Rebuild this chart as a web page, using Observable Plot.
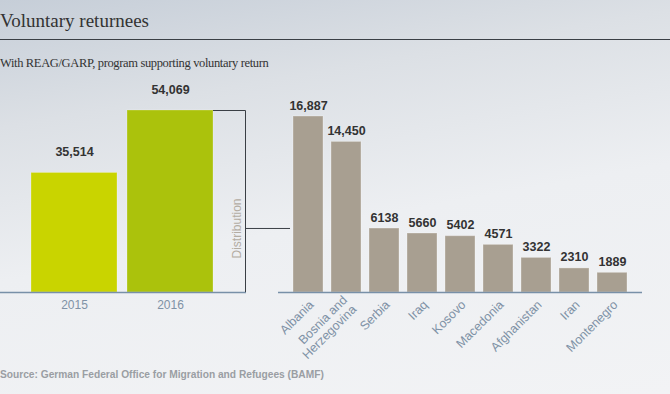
<!DOCTYPE html>
<html>
<head>
<meta charset="utf-8">
<script src="https://cdn.jsdelivr.net/npm/d3@7"></script>
<script src="https://cdn.jsdelivr.net/npm/@observablehq/plot@0.6"></script>
<style>
  html, body { margin: 0; padding: 0; }
  #wrap {
    position: relative; width: 670px; height: 394px; overflow: hidden;
    background: linear-gradient(170deg, #c6ced8 0%, #dce0e5 25%, #edeff2 55%, #f2f3f5 100%);
    font-family: "Liberation Sans", Arial, sans-serif;
  }
  #title { position: absolute; left: 0; top: 10px; font-family: "Liberation Serif", Georgia, serif; font-size: 19px; color: #333; white-space: nowrap; }
  #rule { position: absolute; left: 0; top: 39px; width: 670px; height: 1px; background: #3a3f45; }
  #subtitle { position: absolute; left: 0; top: 56px; font-family: "Liberation Serif", Georgia, serif; font-size: 12.5px; letter-spacing: -0.35px; color: #333; white-space: nowrap; }
  #left { position: absolute; left: 0; top: 80px; }
  #right { position: absolute; left: 270px; top: 80px; }
  #source { position: absolute; left: 0; top: 369px; font-size: 10.2px; font-weight: bold; color: #9a9ea3; white-space: nowrap; }
  svg { overflow: visible; background: none !important; }
</style>
</head>
<body>
<div id="wrap">
  <div id="title">Voluntary returnees</div>
  <div id="rule"></div>
  <div id="subtitle">With REAG/GARP, program supporting voluntary return</div>
  <div id="left"></div>
  <div id="right"></div>
  <div id="source">Source: German Federal Office for Migration and Refugees (BAMF)</div>
</div>
<script>
// ---- data ----
const years = ["2015", "2016"];
const yearValues = [35514, 54069];
const yearColors = ["#c9d400", "#abc20c"];

const countries = ["Albania", "Bosnia and\nHerzegovina", "Serbia", "Iraq", "Kosovo", "Macedonia", "Afghanistan", "Iran", "Montenegro"];
const countryValues = [16887, 14450, 6138, 5660, 5402, 4571, 3322, 2310, 1889];

const bracketLabel = "Distribution";

const fmt = v => v >= 10000 ? d3.format(",")(v) : String(v);
const yearData = years.map((y, i) => ({year: y, value: yearValues[i], color: yearColors[i]}));
const countryData = countries.map((c, i) => ({country: c, value: countryValues[i]}));

const textColor = "#333";
const axisColor = "#7890a8";
const labelColor = "#7f92a6";

// ---- left chart ----
const left = Plot.plot({
  width: 300, height: 240,
  marginLeft: 30, marginRight: 86, marginTop: 30, marginBottom: 28,
  style: {fontFamily: "'Liberation Sans', Arial, sans-serif", background: "none"},
  x: {domain: years, paddingInner: 0.103, paddingOuter: 0, axis: null},
  y: {domain: [0, 54069], axis: null},
  marks: [
    Plot.barY(yearData, {x: "year", y: "value", fill: "color", stroke: "#ffffff", strokeOpacity: 0.25, strokeWidth: 1}),
    Plot.ruleY([0], {stroke: axisColor, strokeWidth: 1.5, insetLeft: -30, insetRight: -32}),
    Plot.text(yearData, {x: "year", y: "value", text: d => fmt(d.value), dy: -21, fontWeight: "bold", fontSize: 12.5, fill: textColor}),
    Plot.text(yearData, {x: "year", text: "year", frameAnchor: "bottom", dy: 16, fontSize: 12, fill: labelColor})
  ]
});
document.getElementById("left").appendChild(left);

// bracket drawn from the left chart's scales
{
  const xs = left.scale("x"), ys = left.scale("y");
  const barRight = xs.apply("2016") + xs.bandwidth;
  const bx = barRight + 32;
  const yTop = ys.apply(54069), yBot = ys.apply(0);
  const yMid = yTop + (yBot - yTop) * 0.651;
  const svg = d3.select(left);
  const g = svg.append("g").attr("fill", "none").attr("stroke", "#3a3f45").attr("stroke-width", 1);
  g.append("path").attr("d", `M${barRight},${yTop + 0.5}H${bx + 0.5}V${yBot}`);
  g.append("path").attr("d", `M${bx},${yMid}H${bx + 45}`);
  svg.append("text").text(bracketLabel)
    .attr("transform", `translate(${bx - 8},${yMid}) rotate(-90)`)
    .attr("text-anchor", "middle").attr("dy", "0.35em")
    .attr("font-size", 12).attr("fill", "#b3aca2")
    .attr("font-family", "'Liberation Sans', Arial, sans-serif");
}

// ---- right chart ----
const right = Plot.plot({
  width: 400, height: 290,
  marginLeft: 22, marginRight: 41, marginTop: 36, marginBottom: 78,
  style: {fontFamily: "'Liberation Sans', Arial, sans-serif", background: "none"},
  x: {domain: countries, paddingInner: 0.2, paddingOuter: 0, axis: null},
  y: {domain: [0, 16887], axis: null},
  marks: [
    Plot.barY(countryData, {x: "country", y: "value", fill: "#a89f91", stroke: "#ffffff", strokeOpacity: 0.3, strokeWidth: 1}),
    Plot.ruleY([0], {stroke: axisColor, strokeWidth: 1.5, insetLeft: -14, insetRight: -13}),
    Plot.text(countryData, {x: "country", y: "value", text: d => fmt(d.value), dy: -11, fontWeight: "bold", fontSize: 12.5, fill: textColor}),
    Plot.text(countryData, {x: "country", text: "country", frameAnchor: "bottom", dx: 3, dy: 10, rotate: -45, textAnchor: "end", lineAnchor: "middle", fontSize: 12.5, fill: labelColor, lineHeight: 1.05})
  ]
});
document.getElementById("right").appendChild(right);
</script>
</body>
</html>
